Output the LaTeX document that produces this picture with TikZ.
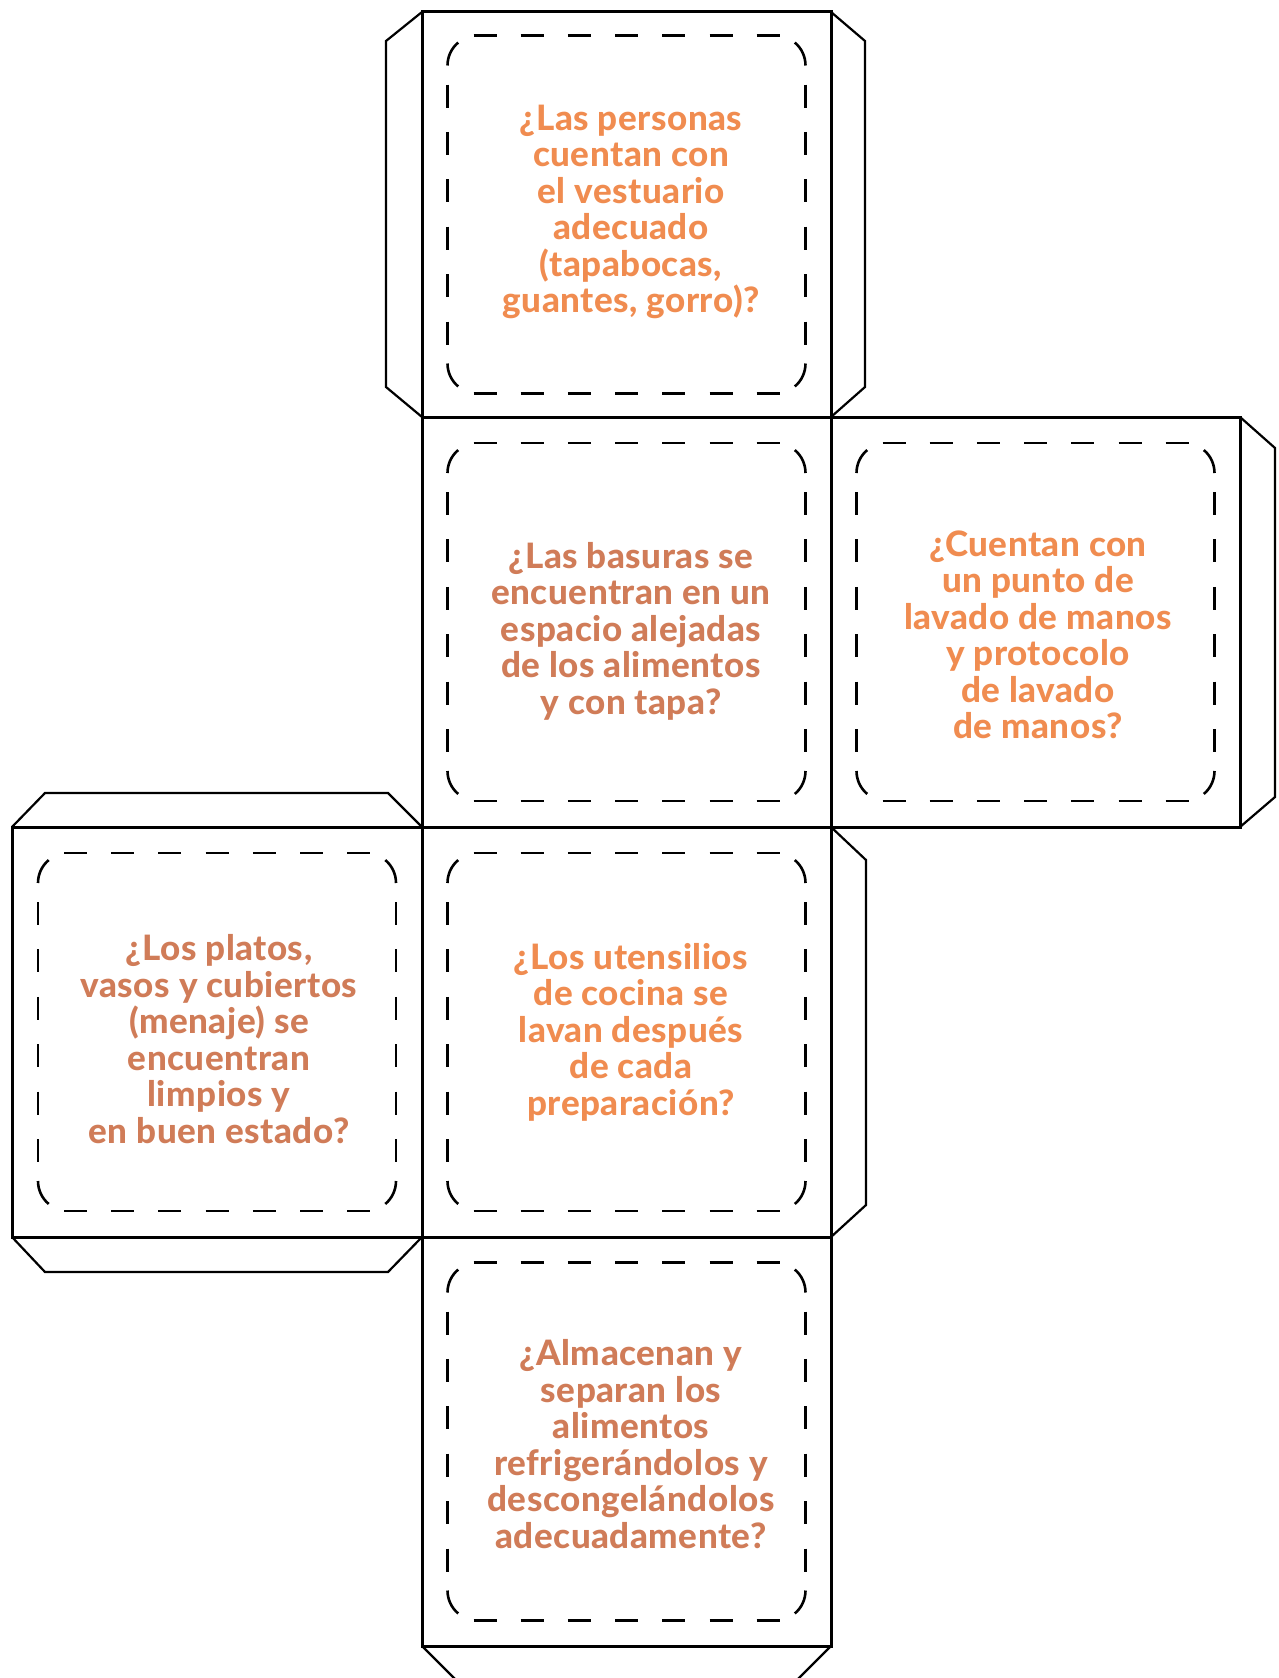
\documentclass[tikz,border=0pt]{standalone}
\usepackage{fontspec}
\setmainfont{Lato}[BoldFont={Lato Heavy}, BoldFeatures={LetterSpace=1.5}]
\definecolor{naranja}{RGB}{240,140,80}
\definecolor{terracota}{RGB}{208,124,88}

\begin{document}
\begin{tikzpicture}[x=1pt, y=-1pt,
		cara/.style={line width=3pt, line join=miter},
		pestana/.style={line width=2.2pt},
		corte/.style={line width=2.6pt},
		pregunta/.style={align=center, inner sep=0pt, font=\fontsize{35}{36.5}\selectfont\bfseries}]
		\useasboundingbox (0,0) rectangle (1279,1678);
		\clip (0,0) rectangle (1279,1678);
		% tabs
		\draw[pestana] (422,12) -- (386,41) -- (386,387) -- (422,417);
		\draw[pestana] (831,12) -- (865,41) -- (865,387) -- (831,417);
		\draw[pestana] (1240,417) -- (1275,448) -- (1275,797) -- (1240,827);
		\draw[pestana] (12,827) -- (45,793) -- (388,793) -- (422,827);
		\draw[pestana] (12,1237) -- (45,1272) -- (388,1272) -- (422,1237);
		\draw[pestana] (831,827) -- (866,860) -- (866,1205) -- (831,1237);
		\draw[pestana] (422,1646) -- (457,1681) -- (796,1681) -- (831,1646);
		% faces
		\draw[cara] (422,12) rectangle (831,417);
		\draw[cara] (422,417) rectangle (831,827);
		\draw[cara] (831,417) rectangle (1240,827);
		\draw[cara] (12,827) rectangle (422,1237);
		\draw[cara] (422,827) rectangle (831,1237);
		\draw[cara] (422,1237) rectangle (831,1646);
		% dashed cut lines
		\foreach \cx/\cy in {626.5/214.5, 626.5/622, 1035.5/622, 217/1032, 626.5/1032, 626.5/1441.5} {
			\draw[corte, dash pattern=on 23pt off 24.2pt] (\cx-153,\cy-179) -- (\cx+153,\cy-179);
			\draw[corte, dash pattern=on 23pt off 24.2pt] (\cx-153,\cy+179) -- (\cx+153,\cy+179);
			\draw[corte, dash pattern=on 23pt off 24.4pt] (\cx-179,\cy-130) -- (\cx-179,\cy+130);
			\draw[corte, dash pattern=on 23pt off 24.4pt] (\cx+179,\cy-130) -- (\cx+179,\cy+130);
			\draw[corte] (\cx-179,\cy-149) arc[start angle=180, end angle=230, radius=30];
			\draw[corte] (\cx+179,\cy-149) arc[start angle=360, end angle=310, radius=30];
			\draw[corte] (\cx+179,\cy+149) arc[start angle=0, end angle=50, radius=30];
			\draw[corte] (\cx-179,\cy+149) arc[start angle=180, end angle=130, radius=30];
		}
		% questions
		\node[pregunta, text=naranja] (vestuario) at (631,212) {¿Las personas\\cuentan con\\el vestuario\\adecuado\\(tapabocas,\\guantes, gorro)?};
		\node[pregunta, text=terracota] (basuras) at (631,631) {¿Las basuras se\\encuentran en un\\espacio alejadas\\de los alimentos\\y con tapa?};
		\node[pregunta, text=naranja] (lavado) at (1038,635) {¿Cuentan con\\un punto de\\lavado de manos\\y protocolo\\de lavado\\de manos?};
		\node[pregunta, text=terracota] (menaje) at (219,1039) {¿Los platos,\\vasos y cubiertos\\(menaje) se\\encuentran\\limpios y\\en buen estado?};
		\node[pregunta, text=naranja] (utensilios) at (631,1032) {¿Los utensilios\\de cocina se\\lavan después\\de cada\\preparación?};
		\node[pregunta, text=terracota] (almacenan) at (631,1444) {¿Almacenan y\\separan los\\alimentos\\refrigerándolos y\\descongelándolos\\adecuadamente?};
	\end{tikzpicture}
\end{document}
